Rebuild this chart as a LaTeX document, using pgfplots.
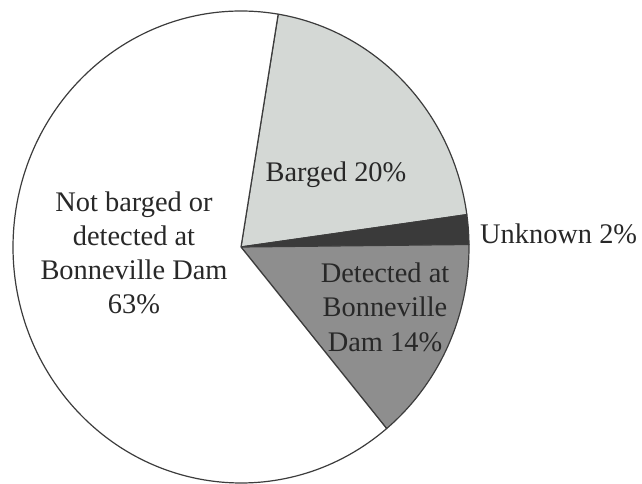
\documentclass[border=0pt]{standalone}
\usepackage{pgfplots}
\usepackage{pgfplotstable}
\pgfplotsset{compat=1.18}
\usepackage{fontspec}
\setmainfont{Liberation Serif}

\definecolor{slicecol0}{RGB}{212,216,213}
\definecolor{slicecol1}{RGB}{58,58,58}
\definecolor{slicecol2}{RGB}{142,142,142}
\definecolor{slicecol3}{RGB}{255,255,255}
\definecolor{edgecol}{RGB}{60,60,60}
\definecolor{textcol}{RGB}{40,40,40}

\pgfplotstableread[col sep=comma]{
label,value
Barged,20
Unknown,2
Detected,14
Not barged,63
}\pietable

\begin{document}
\begin{tikzpicture}
% angles of the slices from the table values
\pgfmathsetmacro\total{0}%
\pgfplotsforeachungrouped \i in {0,...,3}{%
  \pgfplotstablegetelem{\i}{value}\of\pietable
  \pgfmathsetmacro\total{\total+\pgfplotsretval}}%
\def\ang{80.6}%
\pgfplotsforeachungrouped \i in {0,...,3}{%
  \pgfplotstablegetelem{\i}{value}\of\pietable
  \pgfmathsetmacro\newang{\ang-\pgfplotsretval/\total*360}%
  \expandafter\xdef\csname sa\i\endcsname{\ang}%
  \expandafter\xdef\csname ea\i\endcsname{\newang}%
  \global\let\ang\newang}%
\begin{axis}[
  width=642bp, height=484bp, scale only axis,
  xmin=0, xmax=642, ymin=0, ymax=484,
  hide axis, clip=false,
]
\coordinate (bbll) at (axis cs:0,0);
\coordinate (bbur) at (axis cs:642,484);
\pgfplotsinvokeforeach{0,...,3}{
  \filldraw[fill=slicecol#1, draw=edgecol, line width=1.2bp, line join=round]
    (axis cs:241,237) -- ++(\csname sa#1\endcsname:228bp and 236bp)
    arc[start angle=\csname sa#1\endcsname, end angle=\csname ea#1\endcsname,
        x radius=228bp, y radius=236bp] -- cycle;
}
\begin{scope}[every node/.style={font=\fontsize{28.5}{34.5}\selectfont, text=textcol, inner sep=0pt}]
\node[anchor=base] at (axis cs:134,272) {Not barged or};
\node[anchor=base] at (axis cs:134,238) {detected at};
\node[anchor=base] at (axis cs:134,204) {Bonneville Dam};
\node[anchor=base] at (axis cs:134,170) {63\%};
\node[anchor=base] at (axis cs:336,302) {Barged 20\%};
\node[anchor=base] at (axis cs:385,201) {Detected at};
\node[anchor=base] at (axis cs:385,167) {Bonneville};
\node[anchor=base] at (axis cs:385,132) {Dam 14\%};
\node[anchor=base west] at (axis cs:480,240) {Unknown 2\%};
\end{scope}
\end{axis}
\pgfresetboundingbox
\useasboundingbox (bbll) rectangle (bbur);
\end{tikzpicture}
\end{document}
